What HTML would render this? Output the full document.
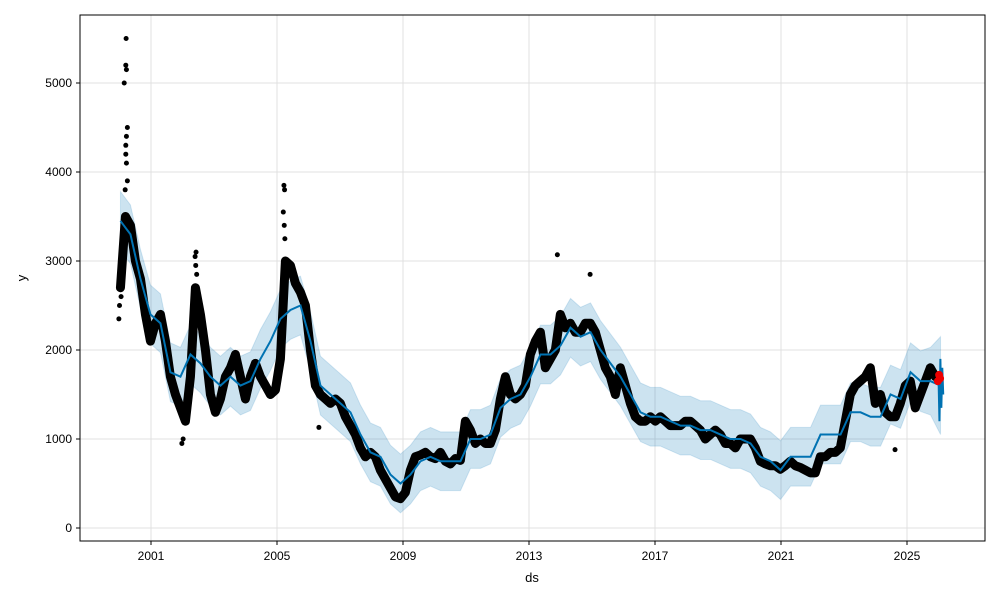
<!DOCTYPE html>
<html><head><meta charset="utf-8"><style>
html,body{margin:0;padding:0;background:#fff;}
svg{display:block;font-family:"Liberation Sans","DejaVu Sans",sans-serif;}
</style></head><body>
<svg id="chart" width="1000" height="600" viewBox="0 0 1000 600" xmlns="http://www.w3.org/2000/svg">
<rect x="0" y="0" width="1000" height="600" fill="#fff"/>
<g id="grid"></g>
<g id="band"></g>
<g id="obs"></g>
<g id="fc"></g>
<rect x="80" y="15" width="905" height="526" fill="none" stroke="#000" stroke-width="1"/>
<g id="axes"></g>
<text x="532" y="582" text-anchor="middle" font-size="13">ds</text>
<text x="26" y="278" text-anchor="middle" font-size="13" transform="rotate(-90 26 278)">y</text>
</svg>
<script>
const xTickYears = [2001, 2005, 2009, 2013, 2017, 2021, 2025];
const yTickValues = [0, 1000, 2000, 3000, 4000, 5000];
const obsStart = 2000.03;
const obsStep = 0.1587;
const observed = [2700,3500,3400,3000,2800,2400,2100,2300,2400,2100,1700,1500,1350,1200,1700,2700,2400,2000,1500,1300,1450,1700,1800,1950,1700,1450,1700,1850,1700,1600,1500,1550,1900,3000,2950,2750,2650,2500,2000,1600,1500,1450,1400,1450,1400,1250,1150,1050,900,800,850,800,650,550,450,350,330,400,650,800,820,850,800,780,850,750,720,780,760,1200,1100,950,1000,950,950,1100,1450,1700,1500,1450,1500,1600,1950,2100,2200,1800,1900,2000,2400,2250,2300,2200,2200,2300,2300,2200,2000,1800,1700,1500,1800,1600,1400,1250,1200,1200,1250,1200,1250,1200,1150,1150,1150,1200,1200,1150,1100,1000,1050,1100,1050,950,950,900,1000,1000,1000,900,750,720,700,700,660,700,750,700,680,650,620,620,800,800,850,850,900,1200,1500,1600,1650,1700,1800,1400,1500,1300,1250,1250,1400,1600,1650,1350,1500,1650,1800,1700];
const spikeYears = [2000.21,2000.2,2000.22,2000.15,2000.25,2000.22,2000.2,2000.25,1999.98,2005.22,2005.24,2002.43,2002.4,2013.9,2014.94,2006.33,2024.62,2001.98,2002.02,2000.1,2000.05,2000.2,2000.22,2000.18,2005.2,2005.23,2005.25,2002.42,2002.45,2000.0,2000.03];
const spikeValues = [5500,5200,5150,5000,4500,4400,4200,3900,2350,3850,3800,3100,3050,3070,2850,1130,880,950,1000,3000,2600,4300,4100,3800,3550,3400,3250,2950,2850,2500,2800];
const fcStart = 2000.03;
const fcStep = 0.3175;
const yhat = [3450,3300,2800,2400,2300,1750,1700,1950,1850,1700,1600,1700,1600,1650,1900,2100,2350,2450,2500,2100,1600,1500,1400,1300,1050,850,800,600,500,600,750,800,750,750,750,1000,1000,1050,1350,1450,1500,1700,1950,1950,2050,2250,2150,2200,2000,1850,1700,1500,1300,1250,1250,1200,1150,1150,1100,1100,1050,1000,1000,950,800,750,650,800,800,800,1050,1050,1050,1300,1300,1250,1250,1500,1450,1750,1650,1650,1600];
const bandHalf = [330,330,330,330,330,330,330,330,330,330,330,330,330,330,330,330,330,330,330,330,330,330,330,330,330,330,330,330,330,330,330,330,330,330,330,330,330,330,330,330,330,330,330,330,330,330,330,330,330,330,330,330,330,330,330,330,330,330,330,330,330,330,330,330,330,330,330,330,330,330,330,330,330,330,330,330,330,330,330,330,340,380,550];
const tailYears = [2026.0,2026.03,2026.06,2026.09,2026.12,2026.15];
const tailValues = [1700,1200,1900,1350,1800,1500];
const redYears = [2025.98,2026.02,2026.05];
const redValues = [1650,1720,1680];

const NS = "http://www.w3.org/2000/svg";
const X = yr => 151 + (yr - 2001) * 31.5;
const Y = v => 528 - v * 0.089;
function mk(tag, attrs, parent) {
  const e = document.createElementNS(NS, tag);
  for (const k in attrs) e.setAttribute(k, attrs[k]);
  parent.appendChild(e);
  return e;
}
const grid = document.getElementById('grid'), axes = document.getElementById('axes');
xTickYears.forEach(t => {
  const x = X(t);
  const g = mk('line', {x1:x, x2:x, y1:15, y2:541, stroke:'#e0e0e0', 'stroke-width':1}, grid);
  
  
  const tk = mk('line', {x1:x, x2:x, y1:541, y2:545, stroke:'#000'}, axes);
  
  
  const lb = mk('text', {x:x, y:560, 'text-anchor':'middle', 'font-size':12}, axes);
  lb.textContent = t;
  
  
});
yTickValues.forEach(t => {
  const y = Y(t);
  const g = mk('line', {x1:80, x2:985, y1:y, y2:y, stroke:'#e0e0e0', 'stroke-width':1}, grid);
  
  
  const tk = mk('line', {x1:76, x2:80, y1:y, y2:y, stroke:'#000'}, axes);
  
  
  const lb = mk('text', {x:72, y:y+4, 'text-anchor':'end', 'font-size':12}, axes);
  lb.textContent = t;
  
  
});
const up = [], lo = [];
yhat.forEach((v, i) => {
  const yr = fcStart + i * fcStep;
  up.push(X(yr) + ',' + Y(v + bandHalf[i]));
  lo.unshift(X(yr) + ',' + Y(v - bandHalf[i]));
});
const band = mk('polygon', {points: up.concat(lo).join(' '), fill:'#0072B2', 'fill-opacity':0.2, stroke:'#0072B2', 'stroke-opacity':0.15}, document.getElementById('band'));


const obs = document.getElementById('obs');
const opts = observed.map((v, i) => X(obsStart + i * obsStep) + ',' + Y(v));
const ol = mk('polyline', {points: opts.join(' '), fill:'none', stroke:'#000', 'stroke-width':9, 'stroke-linejoin':'round', 'stroke-linecap':'round'}, obs);


spikeValues.forEach((v, i) => {
  const c = mk('circle', {cx:X(spikeYears[i]), cy:Y(v), r:2.5, fill:'#000'}, obs);
  
  
});
const fc = document.getElementById('fc');
const fpts = yhat.map((v, i) => X(fcStart + i * fcStep) + ',' + Y(v));
tailValues.forEach((v, i) => fpts.push(X(tailYears[i]) + ',' + Y(v)));
const fl = mk('polyline', {points: fpts.join(' '), fill:'none', stroke:'#0072B2', 'stroke-width':2}, fc);


redValues.forEach((v, i) => {
  const c = mk('circle', {cx:X(redYears[i]), cy:Y(v), r:4, fill:'#e00'}, fc);
  
  
});
</script>
</body></html>
